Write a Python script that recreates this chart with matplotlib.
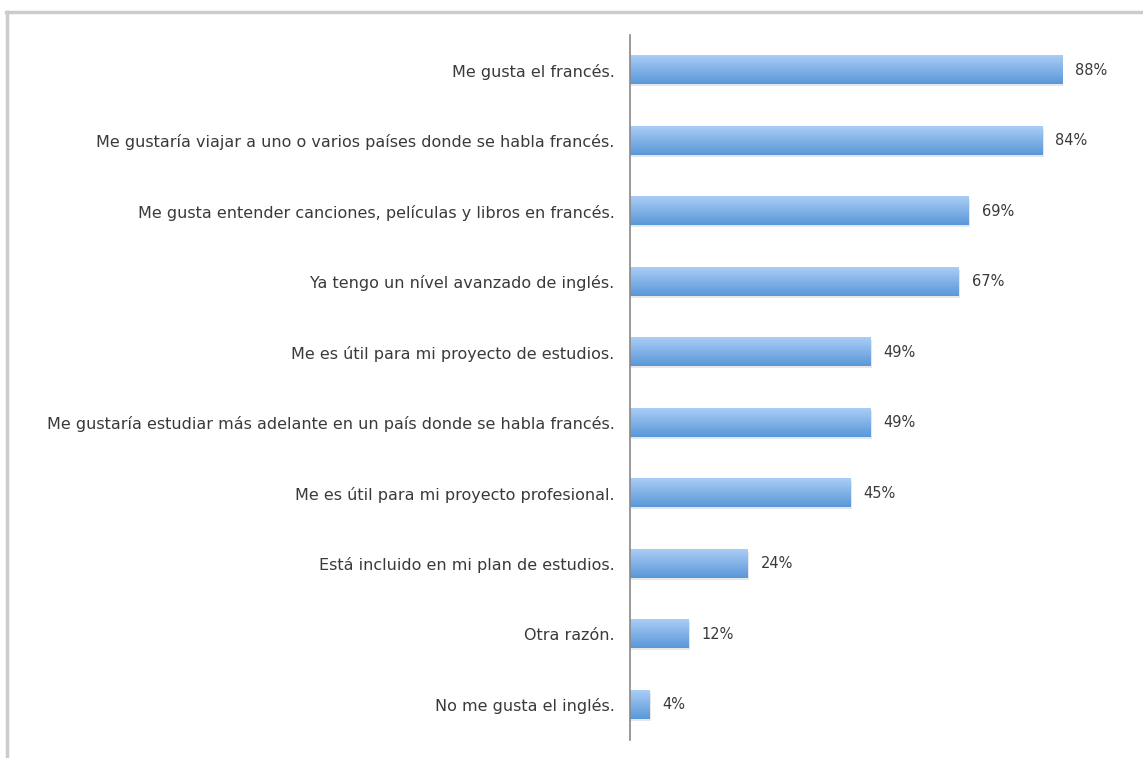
import matplotlib
matplotlib.use("Agg")
import matplotlib.pyplot as plt
import numpy as np
from matplotlib.colors import LinearSegmentedColormap
from matplotlib.lines import Line2D

categories = [
    "Me gusta el francés.",
    "Me gustaría viajar a uno o varios países donde se habla francés.",
    "Me gusta entender canciones, películas y libros en francés.",
    "Ya tengo un nível avanzado de inglés.",
    "Me es útil para mi proyecto de estudios.",
    "Me gustaría estudiar más adelante en un país donde se habla francés.",
    "Me es útil para mi proyecto profesional.",
    "Está incluido en mi plan de estudios.",
    "Otra razón.",
    "No me gusta el inglés.",
]
values = [88, 84, 69, 67, 49, 49, 45, 24, 12, 4]
value_labels = ["88%", "84%", "69%", "67%", "49%", "49%", "45%", "24%", "12%", "4%"]

plt.rcParams['font.family'] = ['DejaVu Sans']

W, H = 1143, 758
fig = plt.figure(figsize=(W / 100, H / 100), dpi=100)
fig.patch.set_facecolor("white")

ax = fig.add_axes([630 / W, (H - 740) / H, 491 / W, 705 / H])
n = len(categories)
ypos = np.arange(n)[::-1]
bar_h = 0.4

cmap = LinearSegmentedColormap.from_list("g", ["#5a97d8", "#a9cdf6"])
grad = np.linspace(0, 1, 64).reshape(-1, 1)

for y, v, lab in zip(ypos, values, value_labels):
    ax.add_patch(plt.Rectangle((0, y - bar_h / 2 - 0.03), v + 0.25, bar_h,
                               facecolor="#d8d8d8", edgecolor="none", zorder=1, alpha=0.6))
    ax.imshow(grad, extent=(0, v, y - bar_h / 2, y + bar_h / 2), cmap=cmap,
              aspect="auto", origin="lower", zorder=2, interpolation="bilinear")
    ax.text(v + 2.6, y, lab, va="center", ha="left", fontsize=10.5, color="#3a3a3a")

ax.set_xlim(0, 100)
ax.set_ylim(-0.5, n - 0.5)
ax.set_yticks(ypos)
ax.set_yticklabels(categories, fontsize=11.5, color="#3a3a3a")
ax.tick_params(axis="y", length=0, pad=11)
ax.set_xticks([])
for s in ["top", "right", "bottom"]:
    ax.spines[s].set_visible(False)
ax.spines["left"].set_color("#888888")
ax.spines["left"].set_linewidth(1.2)
ax.set_facecolor("none")

fig.add_artist(Line2D([6 / W, 1], [1 - 12 / H, 1 - 12 / H], transform=fig.transFigure,
                      color="#cccccc", lw=2.5))
fig.add_artist(Line2D([6.5 / W, 6.5 / W], [0, 1 - 12 / H], transform=fig.transFigure,
                      color="#cccccc", lw=2.5))

fig.savefig("out.png", dpi=100)
